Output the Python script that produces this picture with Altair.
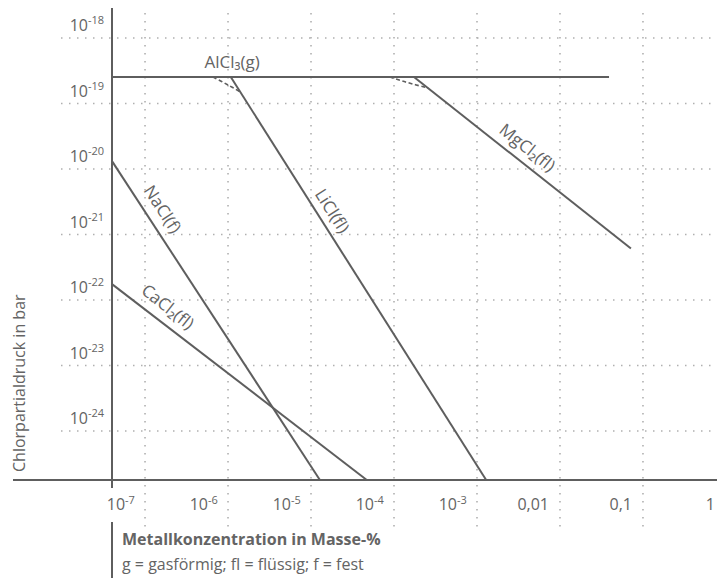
import math

import altair as alt
import pandas as pd

# ---------------------------------------------------------------------------
# Data: chlorine partial pressure (bar) over metal concentration (mass-%)
# ---------------------------------------------------------------------------
series = ["AlCl₃(g)", "LiCl(fl)", "MgCl₂(fl)", "NaCl(f)", "CaCl₂(fl)"]
x_start = [4.0e-8, 1.08e-6, 1.74e-4, 4.0e-8, 4.0e-8]
x_end = [0.039, 1.29e-3, 0.0716, 1.28e-5, 4.7e-5]
y_start = [2.54e-19, 2.54e-19, 2.54e-19, 1.32e-20, 1.75e-22]
y_end = [2.54e-19, 1.79e-25, 6.1e-22, 1.79e-25, 1.79e-25]

# rounded (dashed) transitions where chloride lines meet the AlCl3 level
bend_series = ["LiCl(fl)", "MgCl₂(fl)"]
bend_x = [[6.6e-7, 1.0e-6, 1.41e-6], [8.95e-5, 1.36e-4, 2.57e-4]]
bend_y = [[2.54e-19, 1.92e-19, 1.50e-19], [2.54e-19, 2.14e-19, 1.72e-19]]

# tick values and their labels
x_ticks = [1e-7, 1e-6, 1e-5, 1e-4, 1e-3, 0.01, 0.1, 1.0]
x_tick_base = ["10", "10", "10", "10", "10", "0,01", "0,1", "1"]
x_tick_exp = ["-7", "-6", "-5", "-4", "-3", "", "", ""]
y_ticks = [1e-18, 1e-19, 1e-20, 1e-21, 1e-22, 1e-23, 1e-24]
y_tick_exp = ["-18", "-19", "-20", "-21", "-22", "-23", "-24"]

# where each series name is written along its line
label_at_x = [1.12e-6, 1.30e-5, 3.13e-3, 1.12e-7, 1.43e-7]
label_angle = [0, 57.6, 38.3, 56.8, 38.3]
label_lift = [-14, -13, -14, -15, -15]

# ---------------------------------------------------------------------------
# Styling
# ---------------------------------------------------------------------------
FONT = "Open Sans"
INK = "#5e5e5e"
TXT = "#646464"
GRID = "#b0b0b0"
W, H = 605, 472

X_DOM = [10 ** -7.398, 10 ** -0.108]
Y_DOM = [10 ** -24.748, 10 ** -17.542]
xscale = alt.Scale(type="log", domain=X_DOM, nice=False)
yscale = alt.Scale(type="log", domain=Y_DOM, nice=False)


def X():
    return alt.X("x:Q", scale=xscale, axis=None)


def Y():
    return alt.Y("y:Q", scale=yscale, axis=None)


def on_line(i, xv):
    """Point on series i (straight in log-log space) at concentration xv."""
    lx0, lx1 = math.log10(x_start[i]), math.log10(x_end[i])
    ly0, ly1 = math.log10(y_start[i]), math.log10(y_end[i])
    t = (math.log10(xv) - lx0) / (lx1 - lx0)
    return 10 ** (ly0 + t * (ly1 - ly0))


# ---------------------------------------------------------------------------
# Grid and axis lines
# ---------------------------------------------------------------------------
dots = dict(color=GRID, strokeWidth=1.6, strokeDash=[1.5, 6.5])
grid_v = alt.Chart(pd.DataFrame({"x": x_ticks})).mark_rule(**dots).encode(
    x=X(), y=alt.value(5), y2=alt.value(519)
)
grid_h = alt.Chart(pd.DataFrame({"y": y_ticks})).mark_rule(**dots).encode(
    y=Y(), x=alt.value(-51), x2=alt.value(W)
)
x_axis = alt.Chart(pd.DataFrame({"y": [Y_DOM[0]]})).mark_rule(
    color=INK, strokeWidth=2
).encode(y=Y(), x=alt.value(-99), x2=alt.value(W))
y_axis = alt.Chart(pd.DataFrame({"x": [X_DOM[0]]})).mark_rule(
    color=INK, strokeWidth=2
).encode(x=X(), y=alt.value(0), y2=alt.value(480))

# ---------------------------------------------------------------------------
# Series lines
# ---------------------------------------------------------------------------
rows = []
for i, name in enumerate(series):
    rows.append({"series": name, "i": 0, "x": x_start[i], "y": y_start[i]})
    rows.append({"series": name, "i": 1, "x": x_end[i], "y": y_end[i]})
lines = alt.Chart(pd.DataFrame(rows)).mark_line(color=INK, strokeWidth=2).encode(
    x=X(), y=Y(), detail="series:N", order="i:Q"
)

bend_rows = []
for name, bx, by in zip(bend_series, bend_x, bend_y):
    for k, (a, b) in enumerate(zip(bx, by)):
        bend_rows.append({"series": name, "i": k, "x": a, "y": b})
bends = alt.Chart(pd.DataFrame(bend_rows)).mark_line(
    color=INK, strokeWidth=1.6, strokeDash=[4, 2.5], interpolate="cardinal"
).encode(x=X(), y=Y(), detail="series:N", order="i:Q")

# ---------------------------------------------------------------------------
# Series names written along the lines
# ---------------------------------------------------------------------------
name_layers = []
for i, name in enumerate(series):
    df = pd.DataFrame(
        {"x": [label_at_x[i]], "y": [on_line(i, label_at_x[i])], "t": [name]}
    )
    name_layers.append(
        alt.Chart(df)
        .mark_text(
            font=FONT,
            fontSize=17,
            color=TXT,
            angle=label_angle[i],
            dy=label_lift[i],
            align="center",
            baseline="middle",
        )
        .encode(x=X(), y=Y(), text="t:N")
    )

# ---------------------------------------------------------------------------
# Tick labels (powers of ten drawn with raised exponents)
# ---------------------------------------------------------------------------
xt = pd.DataFrame({"x": x_ticks, "base": x_tick_base, "exp": x_tick_exp})
xt_pow = xt[xt["exp"] != ""]
xt_plain = xt[xt["exp"] == ""]
tick_txt = dict(font=FONT, color=TXT)
x_base = alt.Chart(xt_pow).mark_text(
    align="right", baseline="alphabetic", fontSize=16, dx=-20, **tick_txt
).encode(x=X(), y=alt.value(502), text="base:N")
x_exp = alt.Chart(xt_pow).mark_text(
    align="left", baseline="alphabetic", fontSize=11, dx=-20, **tick_txt
).encode(x=X(), y=alt.value(496), text="exp:N")
x_plain = alt.Chart(xt_plain).mark_text(
    align="right", baseline="alphabetic", fontSize=16, dx=-11, **tick_txt
).encode(x=X(), y=alt.value(502), text="base:N")

yt = pd.DataFrame({"y": y_ticks, "exp": y_tick_exp, "base": ["10"] * len(y_ticks)})
y_base = alt.Chart(yt).mark_text(
    align="right", baseline="alphabetic", fontSize=16, dy=-7, **tick_txt
).encode(y=Y(), x=alt.value(-24), text="base:N")
y_exp = alt.Chart(yt).mark_text(
    align="left", baseline="alphabetic", fontSize=11, dy=-14, **tick_txt
).encode(y=Y(), x=alt.value(-24), text="exp:N")

# ---------------------------------------------------------------------------
# Axis titles and key
# ---------------------------------------------------------------------------
y_title = alt.Chart(pd.DataFrame({"t": ["Chlorpartialdruck in bar"]})).mark_text(
    font=FONT, fontSize=16, color=TXT, angle=270, align="left", baseline="middle"
).encode(x=alt.value(-92), y=alt.value(464), text="t:N")

x_title = alt.Chart(
    pd.DataFrame({"t": ["Metallkonzentration in Masse-%"]})
).mark_text(
    font=FONT, fontSize=16, fontWeight="bold", color=TXT, align="left",
    baseline="alphabetic",
).encode(x=alt.value(10), y=alt.value(537), text="t:N")

key_note = alt.Chart(
    pd.DataFrame({"t": ["g = gasförmig; fl = flüssig; f = fest"]})
).mark_text(
    font=FONT, fontSize=16, color=TXT, align="left", baseline="alphabetic"
).encode(x=alt.value(10), y=alt.value(562), text="t:N")

title_bar = alt.Chart(pd.DataFrame({"k": [0]})).mark_rule(
    color=INK, strokeWidth=2
).encode(x=alt.value(0), y=alt.value(514), y2=alt.value(570))

chart = (
    alt.layer(
        grid_v, grid_h, bends, lines, x_axis, y_axis, *name_layers,
        x_base, x_exp, x_plain, y_base, y_exp, y_title, x_title, key_note,
        title_bar,
    )
    .properties(
        width=W,
        height=H,
        autosize=alt.AutoSizeParams(type="none"),
        padding={"left": 112, "top": 8, "right": 0, "bottom": 103},
        background="white",
    )
    .configure_view(stroke=None)
)

chart.save("out.html", embed_options={"renderer": "svg", "actions": False})
